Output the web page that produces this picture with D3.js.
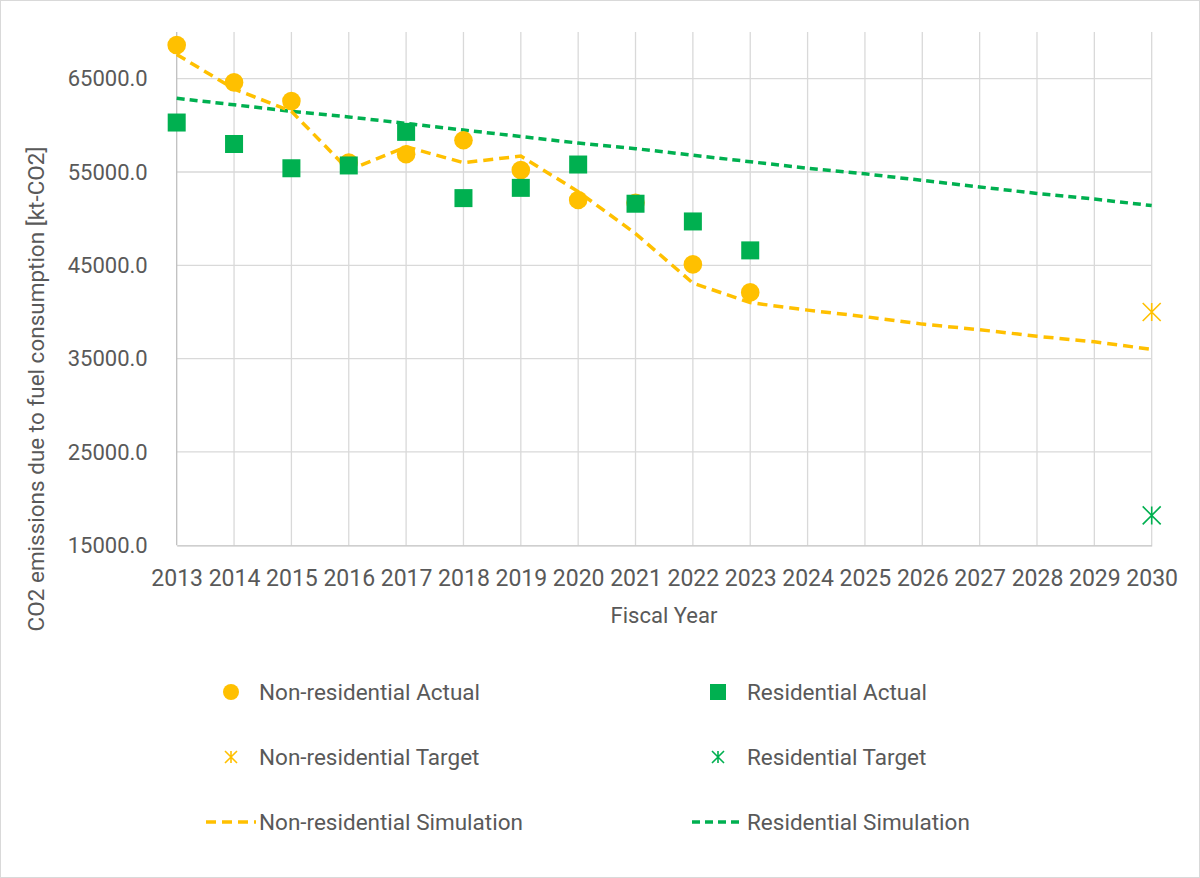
<!DOCTYPE html>
<html>
<head>
<meta charset="utf-8">
<script src="https://cdn.jsdelivr.net/npm/d3@7"></script>
<style>
  body { margin: 0; background: #fff; }
  svg text { font-family: Roboto, "Liberation Sans", sans-serif; fill: #595959; }
</style>
</head>
<body>
<svg id="chart" width="1200" height="878"></svg>
<script>
// fiscal years on the axis
const years = d3.range(2013, 2031);
const yTicks = [15000, 25000, 35000, 45000, 55000, 65000];

// actual values, 2013-2023
const actualYears = [2013, 2014, 2015, 2016, 2017, 2018, 2019, 2020, 2021, 2022, 2023];
const nonResActual = [68600, 64600, 62600, 56000, 56900, 58400, 55200, 52000, 51700, 45100, 42100];
const resActual = [60300, 58000, 55400, 55700, 59300, 52200, 53300, 55800, 51600, 49700, 46600];

// 2030 targets
const targetYear = 2030;
const nonResTarget = 40000;
const resTarget = 18200;

// simulation, 2013-2030
const nonResSim = [67600, 63900, 61500, 55200, 57700, 56000, 56700, 52900, 48400, 43100, 41000,
                   40200, 39500, 38700, 38100, 37400, 36800, 36000];
const resSim = [62900, 62200, 61500, 60900, 60200, 59500, 58800, 58100, 57500, 56800, 56100,
                55400, 54800, 54100, 53400, 52700, 52100, 51400];

const YELLOW = "#FFC000";
const GREEN = "#00B050";

const svg = d3.select("#chart");

svg.append("rect")
    .attr("x", 0.5).attr("y", 0.5)
    .attr("width", 1199).attr("height", 877)
    .attr("fill", "#fff")
    .attr("stroke", "#d9d9d9");

const x = d3.scaleLinear().domain([2013, 2030]).range([176.7, 1151.7]);
const y = d3.scaleLinear().domain([15000, 70000]).range([545.3, 32]);

// gridlines
const grid = svg.append("g");
grid.selectAll(".hg")
  .data(yTicks.slice(1))
  .join("line")
    .attr("x1", x(2013)).attr("x2", x(2030))
    .attr("y1", d => y(d)).attr("y2", d => y(d))
    .attr("stroke", "#d9d9d9").attr("stroke-width", 1.3);
grid.selectAll(".vg")
  .data(years.slice(1))
  .join("line")
    .attr("x1", d => x(d)).attr("x2", d => x(d))
    .attr("y1", y(70000)).attr("y2", y(15000))
    .attr("stroke", "#d9d9d9").attr("stroke-width", 1.3);

// axes
const yAxis = svg.append("g")
    .attr("transform", `translate(${x(2013)},0)`)
    .call(d3.axisLeft(y).tickValues(yTicks).tickFormat(d3.format(".1f")).tickSize(0).tickPadding(29));
yAxis.select(".domain").attr("stroke", "#bfbfbf").attr("stroke-width", 1.3)
    .attr("d", `M0,${y(70000)}V${y(15000)}`);
yAxis.selectAll("text").style("font-size", "22px").attr("fill", "#595959");

const xAxis = svg.append("g")
    .attr("transform", `translate(0,${y(15000)})`)
    .call(d3.axisBottom(x).tickValues(years).tickFormat(d3.format("d")).tickSize(0).tickPadding(24));
xAxis.select(".domain").attr("stroke", "#bfbfbf").attr("stroke-width", 1.3);
xAxis.selectAll("text").style("font-size", "23px").attr("fill", "#595959");

svg.append("text")
    .attr("x", 664).attr("y", 623)
    .attr("text-anchor", "middle")
    .style("font-size", "22px")
    .text("Fiscal Year");

svg.append("text")
    .attr("transform", "translate(44,389) rotate(-90)")
    .attr("text-anchor", "middle")
    .style("font-size", "22.5px")
    .text("CO2 emissions due to fuel consumption [kt-CO2]");

// simulation lines
const line = d3.line().x((d, i) => x(years[i])).y(d => y(d));
svg.append("path")
    .attr("d", line(resSim))
    .attr("fill", "none").attr("stroke", GREEN)
    .attr("stroke-width", 3.5).attr("stroke-dasharray", "8,5");
svg.append("path")
    .attr("d", line(nonResSim))
    .attr("fill", "none").attr("stroke", YELLOW)
    .attr("stroke-width", 3.5).attr("stroke-dasharray", "10,6");

// actual markers
svg.append("g").selectAll("circle")
  .data(nonResActual)
  .join("circle")
    .attr("cx", (d, i) => x(actualYears[i]))
    .attr("cy", d => y(d))
    .attr("r", 9.3)
    .attr("fill", YELLOW);

svg.append("g").selectAll("rect")
  .data(resActual)
  .join("rect")
    .attr("x", (d, i) => x(actualYears[i]) - 9)
    .attr("y", d => y(d) - 9)
    .attr("width", 18).attr("height", 18)
    .attr("fill", GREEN);

function asterisk(g, cx, cy, s, color) {
  g.append("path")
      .attr("d", `M${cx - s},${cy - s}L${cx + s},${cy + s}M${cx - s},${cy + s}L${cx + s},${cy - s}M${cx},${cy - s}V${cy + s}`)
      .attr("stroke", color).attr("stroke-width", 1.6).attr("fill", "none");
}

const targets = svg.append("g");
asterisk(targets, x(targetYear), y(nonResTarget), 9, YELLOW);
asterisk(targets, x(targetYear), y(resTarget), 9, GREEN);

// legend
const legendRows = [692, 757, 822];
const legendCols = [231, 718];
const legend = svg.append("g");
function legendText(cx, cy, label) {
  legend.append("text")
      .attr("x", cx).attr("y", cy)
      .attr("dy", "0.35em")
      .style("font-size", "22.5px")
      .text(label);
}
legend.append("circle").attr("cx", legendCols[0]).attr("cy", legendRows[0]).attr("r", 8).attr("fill", YELLOW);
legendText(259, legendRows[0], "Non-residential Actual");
legend.append("rect").attr("x", legendCols[1] - 8).attr("y", legendRows[0] - 8)
    .attr("width", 16).attr("height", 16).attr("fill", GREEN);
legendText(747, legendRows[0], "Residential Actual");

asterisk(legend, legendCols[0], legendRows[1], 6, YELLOW);
legendText(259, legendRows[1], "Non-residential Target");
asterisk(legend, legendCols[1], legendRows[1], 6, GREEN);
legendText(747, legendRows[1], "Residential Target");

legend.append("line").attr("x1", 206).attr("x2", 256)
    .attr("y1", legendRows[2]).attr("y2", legendRows[2])
    .attr("stroke", YELLOW).attr("stroke-width", 3.5).attr("stroke-dasharray", "10,6");
legendText(259, legendRows[2], "Non-residential Simulation");
legend.append("line").attr("x1", 692).attr("x2", 744)
    .attr("y1", legendRows[2]).attr("y2", legendRows[2])
    .attr("stroke", GREEN).attr("stroke-width", 3.5).attr("stroke-dasharray", "8,5");
legendText(747, legendRows[2], "Residential Simulation");
</script>
</body>
</html>
